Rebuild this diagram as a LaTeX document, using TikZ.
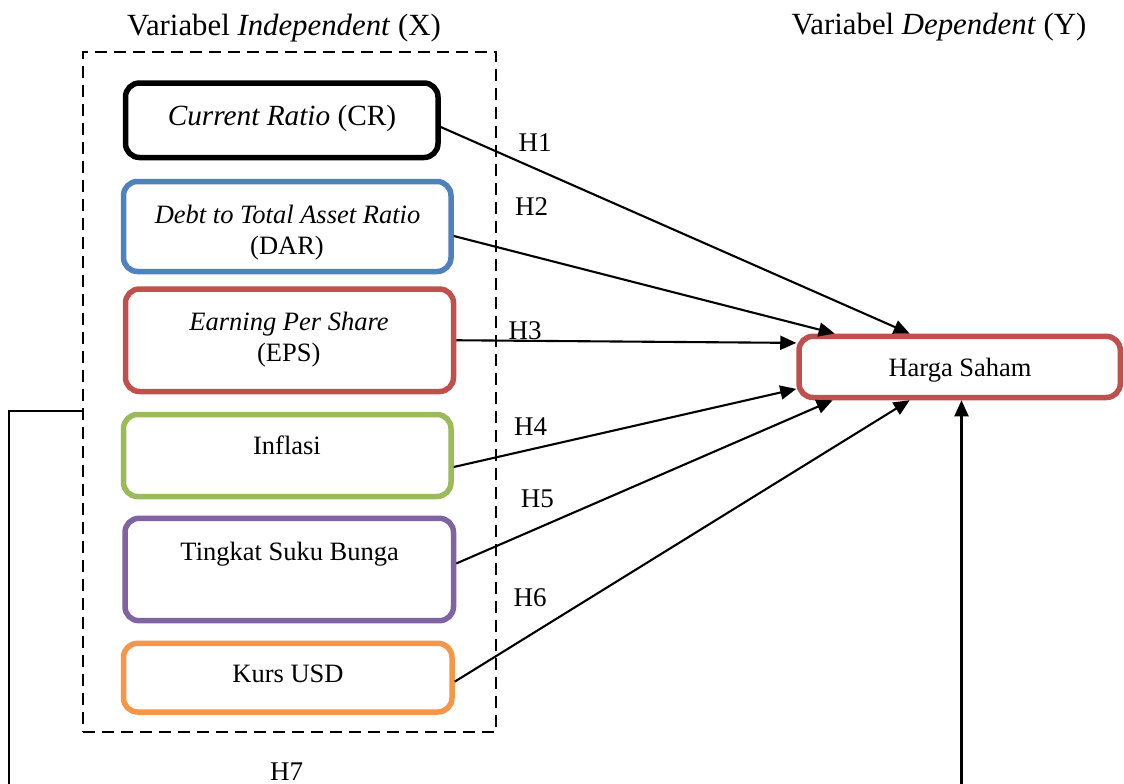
\documentclass[tikz,border=0pt]{standalone}
\usepackage{fontspec}
\setmainfont{Liberation Serif}
\usetikzlibrary{arrows.meta}
\definecolor{cblue}{HTML}{4F81BD}
\definecolor{cred}{HTML}{C0504D}
\definecolor{cgreen}{HTML}{9BBB59}
\definecolor{cpurple}{HTML}{8064A2}
\definecolor{corange}{HTML}{F79646}
\begin{document}
\begin{tikzpicture}[x=1pt,y=-1pt,
  box/.style={draw, line width=5.5pt, rounded corners=14pt, inner sep=0pt},
  txt/.style={font=\fontsize{26.5}{31}\selectfont, anchor=base, inner sep=0pt},
  ttl/.style={font=\fontsize{30.8}{35}\selectfont, anchor=base, inner sep=0pt},
  hyp/.style={font=\fontsize{27}{31}\selectfont, anchor=base, inner sep=0pt},
  arr/.style={line width=2.1pt, -{Triangle[length=16pt,width=14pt]}},
  link/.style={line width=2.1pt}]
\clip (0,0) rectangle (1124,784);
\fill[white] (0,0) rectangle (1124,784);

% titles
\node[ttl] (tx) at (284,36) {Variabel \textit{Independent} (X)};
\node[ttl] (ty) at (939,35) {Variabel \textit{Dependent} (Y)};

% dashed group
\node[draw, line width=2.8pt, dash pattern=on 12pt off 7pt, minimum width=413pt, minimum height=680pt, inner sep=0pt] (grp) at (289.5,392) {};

% boxes
\node[box, draw=black, minimum width=312.5pt, minimum height=74.5pt] (cr) at (281.75,120.25) {};
\node[box, draw=cblue, minimum width=327.5pt, minimum height=90pt] (dar) at (287.25,226.5) {};
\node[box, draw=cred, minimum width=328pt, minimum height=102.5pt] (eps) at (289.5,340.25) {};
\node[box, draw=cgreen, minimum width=327.5pt, minimum height=82pt] (inf) at (287.25,455.5) {};
\node[box, draw=cpurple, minimum width=328.5pt, minimum height=102.4pt] (tsb) at (289.25,569.5) {};
\node[box, draw=corange, minimum width=328.5pt, minimum height=68.7pt] (kurs) at (287.75,677.65) {};
\node[box, draw=cred, minimum width=321.3pt, minimum height=61.2pt] (hs) at (959.65,366.9) {};

% box texts
\node[txt, font=\fontsize{29.3}{34}\selectfont] (crt) at (282,125) {\textit{Current Ratio} (CR)};
\node[txt] (dart1) at (287.5,223.3) {\textit{Debt to Total Asset Ratio}};
\node[txt] (dart2) at (287,254) {(DAR)};
\node[txt] (epst1) at (289,330) {\textit{Earning Per Share}};
\node[txt] (epst2) at (288.7,361.7) {(EPS)};
\node[txt] (inft) at (287,454.3) {Inflasi};
\node[txt] (tsbt) at (289.7,560) {Tingkat Suku Bunga};
\node[txt] (kurst) at (288,682.7) {Kurs USD};
\node[txt] (hst) at (960,376.7) {Harga Saham};

% hypothesis labels
\node[hyp] (h1) at (535,151.7) {H1};
\node[hyp] (h2) at (531.7,215) {H2};
\node[hyp] (h3) at (525,339.3) {H3};
\node[hyp] (h4) at (530.7,435) {H4};
\node[hyp] (h5) at (537.3,507.3) {H5};
\node[hyp] (h6) at (530,606.7) {H6};
\node[hyp] (h7) at (286.7,780) {H7};

% arrows
\draw[arr] ([yshift=-6.75pt]cr.east) -- ([xshift=-50pt]hs.north);
\draw[arr] ([yshift=-9.5pt]dar.east) -- ([xshift=-125pt]hs.north);
\draw[arr] (eps.east) -- ([yshift=24pt]hs.west);
\draw[arr] ([yshift=-11.5pt]inf.east) -- ([yshift=-22pt]hs.west);
\draw[arr] ([yshift=6pt]tsb.east) -- ([xshift=-127pt]hs.south);
\draw[arr] ([yshift=-4pt]kurs.east) -- ([xshift=-50pt]hs.south);

% H7 connector
\coordinate (c1) at (9,411);
\coordinate (c2) at (9,800);
\coordinate (c3) at (961.5,800);
\draw[link] ([yshift=-19pt]grp.west) -- (c1) -- (c2) -- (c3);
\draw[arr] (c3) -- ([xshift=1.85pt]hs.south);
\end{tikzpicture}
\end{document}
